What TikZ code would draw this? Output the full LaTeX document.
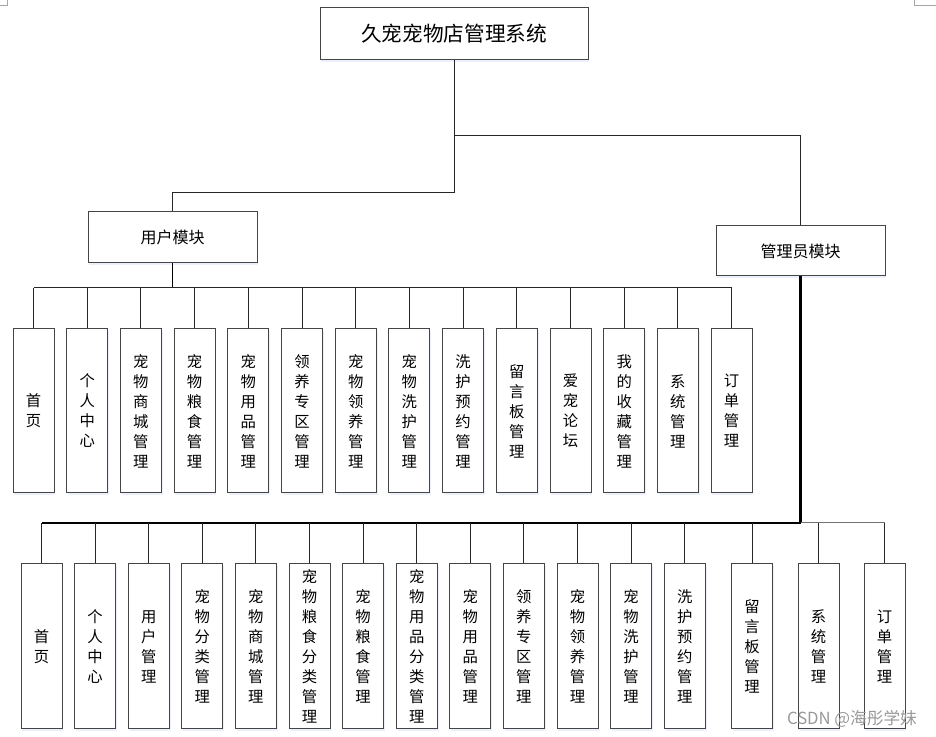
\documentclass[tikz,border=0pt]{standalone}
\usepackage{fontspec}
\newfontfamily\cjk{Noto Sans CJK SC}
\usetikzlibrary{shadows}
\definecolor{boxline}{rgb}{0.27,0.27,0.27}
\definecolor{shade}{rgb}{0.92,0.94,0.98}
\tikzset{
  box/.style={draw=boxline, line width=0.75pt, fill=white, inner sep=0pt, align=center,
    drop shadow={shadow xshift=1pt, shadow yshift=-1.2pt, fill=shade, opacity=1}},
  titlebox/.style={box, minimum width=201pt, minimum height=39pt, font=\cjk\fontsize{15.5}{18}\selectfont},
  modbox/.style={box, minimum width=126.75pt, font=\cjk\fontsize{12}{14}\selectfont},
  ubox/.style={box, minimum width=30.75pt, minimum height=123pt, font=\cjk\fontsize{11.5}{15}\selectfont},
  abox/.style={box, minimum width=30.75pt, minimum height=123.75pt, font=\cjk\fontsize{11.5}{15}\selectfont},
  link/.style={draw=black!85, line width=0.75pt},
  thick link/.style={draw=black, line width=1.6pt},
}
\begin{document}
\begin{tikzpicture}[x=0.75pt, y=-0.75pt]
\useasboundingbox (0,0) rectangle (936,737);
% corner marks
\draw[gray!70, line width=0.6pt] (0,5) -- (7,5) -- (7,0);
\draw[gray!70, line width=0.6pt] (936,5) -- (914,5) -- (914,0);

\node[titlebox] (top) at (454,34) {久宠宠物店管理系统};
\node[modbox, minimum height=38.25pt] (user) at (172.5,237.5) {用户模块};
\node[modbox, minimum height=37.5pt] (admin) at (800.5,251) {管理员模块};

\coordinate (j1) at (454,136);
\coordinate (j2) at (454,193);
\draw[link] (top.south) -- (top.south |- j2) -| (user.north);
\draw[link] (top.south |- j1) -| (admin.north);

% user children
\foreach \i/\t in {1/{首\\页}, 2/{个\\人\\中\\心}, 3/{宠\\物\\商\\城\\管\\理}, 4/{宠\\物\\粮\\食\\管\\理},
  5/{宠\\物\\用\\品\\管\\理}, 6/{领\\养\\专\\区\\管\\理}, 7/{宠\\物\\领\\养\\管\\理}, 8/{宠\\物\\洗\\护\\管\\理},
  9/{洗\\护\\预\\约\\管\\理}, 10/{留\\言\\板\\管\\理}, 11/{爱\\宠\\论\\坛}, 12/{我\\的\\收\\藏\\管\\理},
  13/{系\\统\\管\\理}, 14/{订\\单\\管\\理}}{
  \node[ubox] (u\i) at ({33.5+53.7*(\i-1)},411) {\t};
}
\coordinate (ubus) at (0,288);
\draw[thick link, line width=1.3pt] (user.south) -- (user.south |- ubus);
\draw[link] (u1.north |- ubus) -- (u14.north |- ubus);
\foreach \i in {1,...,14}{
  \draw[link] (u\i.north) -- (u\i.north |- ubus);
}

% admin children
\foreach \i/\t in {1/{首\\页}, 2/{个\\人\\中\\心}, 3/{用\\户\\管\\理}, 4/{宠\\物\\分\\类\\管\\理},
  5/{宠\\物\\商\\城\\管\\理}, 6/{宠\\物\\粮\\食\\分\\类\\管\\理}, 7/{宠\\物\\粮\\食\\管\\理},
  8/{宠\\物\\用\\品\\分\\类\\管\\理}, 9/{宠\\物\\用\\品\\管\\理}, 10/{领\\养\\专\\区\\管\\理},
  11/{宠\\物\\领\\养\\管\\理}, 12/{宠\\物\\洗\\护\\管\\理}, 13/{洗\\护\\预\\约\\管\\理}}{
  \node[abox] (a\i) at ({41.5+53.6*(\i-1)},646.5) {\t};
}
\node[abox] (a14) at (752,646.5) {留\\言\\板\\管\\理};
\node[abox] (a15) at (818.5,646.5) {系\\统\\管\\理};
\node[abox] (a16) at (884.5,646.5) {订\\单\\管\\理};

\coordinate (abus) at (0,523);
\draw[thick link] (admin.south) -- (admin.south |- abus);
\draw[thick link] (a1.north |- abus) -- (admin.south |- abus);
\draw[link, draw=black!55] (admin.south |- abus) -- (a16.north |- abus);
\foreach \i in {1,...,16}{
  \draw[link] (a\i.north) -- (a\i.north |- abus);
}

% watermark
\node[text=black!40, font=\cjk\fontsize{12.5}{14}\selectfont, inner sep=0pt] (wm) at (852,719) {CSDN @海彤学妹};
\end{tikzpicture}
\end{document}
